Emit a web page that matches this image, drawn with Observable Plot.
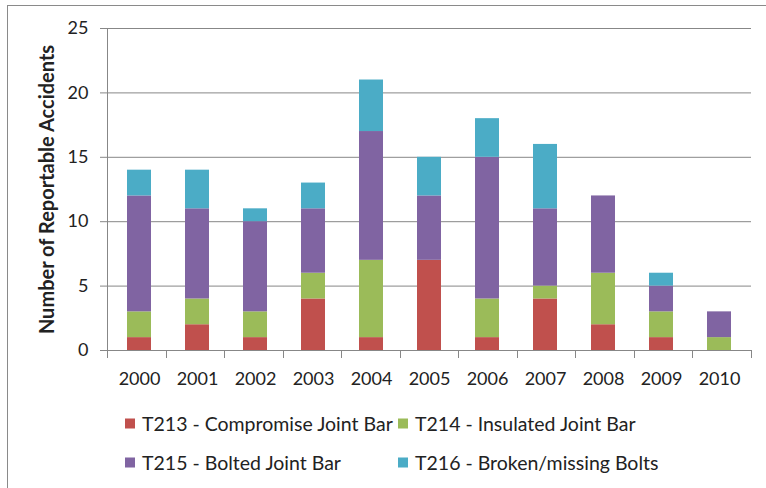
<!DOCTYPE html>
<html>
<head>
<meta charset="utf-8">
<script src="https://cdn.jsdelivr.net/npm/d3@7"></script>
<script src="https://cdn.jsdelivr.net/npm/@observablehq/plot@0.6"></script>
<style>
  html, body { margin: 0; padding: 0; background: #fff; width: 766px; height: 488px; overflow: hidden; }
  body { position: relative; font-family: Lato, "Open Sans", sans-serif; color: #222; }
  #frame { position: absolute; left: 7px; top: 5px; width: 800px; height: 520px; border: 1px solid #8a8a8a; box-sizing: border-box; }
  #chart { position: absolute; left: 0; top: 0; }
  #legend { position: absolute; left: 0; top: 0; width: 766px; height: 488px; pointer-events: none; }
  .item { position: absolute; display: flex; align-items: center; font-size: 19.5px; white-space: nowrap; transform: translateY(-50%); }
  .sw { width: 10px; height: 10px; margin-right: 7px; }
</style>
</head>
<body>
<div id="frame"></div>
<div id="chart"></div>
<div id="legend"></div>
<script>
const years = ["2000","2001","2002","2003","2004","2005","2006","2007","2008","2009","2010"];
const seriesNames = ["T213 - Compromise Joint Bar","T214 - Insulated Joint Bar","T215 - Bolted Joint Bar","T216 - Broken/missing Bolts"];
const seriesColors = ["#C0504D","#9BBB59","#8064A2","#4BACC6"];
const t213 = [1,2,1,4,1,7,1,4,2,1,0];
const t214 = [2,2,2,2,6,0,3,1,4,2,1];
const t215 = [9,7,7,5,10,5,11,6,6,2,2];
const t216 = [2,3,1,2,4,3,3,5,0,1,0];
const yTicks = [0,5,10,15,20,25];
const yTitle = "Number of Reportable Accidents";

const seriesValues = [t213, t214, t215, t216];
const rows = [];
seriesNames.forEach((s, si) => years.forEach((y, i) => rows.push({year: y, series: s, value: seriesValues[si][i]})));

const gridColor = "#878787";

function axisLines(index, scales, values, dims) {
  const l = dims.marginLeft, r = dims.marginRight, t = dims.marginTop, b = dims.marginBottom;
  const w = dims.width, h = dims.height;
  const g = d3.create("svg:g").attr("stroke", gridColor).attr("stroke-width", 1);
  g.append("line").attr("x1", l + 0.5).attr("x2", l + 0.5).attr("y1", t).attr("y2", h - b);
  const step = (w - l - r) / years.length;
  for (let i = 0; i <= years.length; i++) {
    const x = Math.round(l + i * step) + 0.5;
    g.append("line").attr("x1", x).attr("x2", x).attr("y1", h - b).attr("y2", h - b + 8);
  }
  return g.node();
}

const chart = Plot.plot({
  width: 766,
  height: 395,
  marginLeft: 107,
  marginRight: 15,
  marginTop: 28,
  marginBottom: 45,
  style: {fontFamily: "Lato, 'Open Sans', sans-serif", fontSize: "18px", color: "#222", background: "transparent"},
  x: {domain: years, paddingInner: 0.59, paddingOuter: 0.295, label: null, axis: null},
  y: {domain: [0, 25], label: null, axis: null},
  color: {domain: seriesNames, range: seriesColors},
  marks: [
    Plot.ruleY(yTicks, {stroke: gridColor, strokeOpacity: 1}),
    Plot.barY(rows, {x: "year", y: "value", fill: "series"}),
    Plot.axisY({ticks: yTicks, tickSize: 7, tickPadding: 12, stroke: gridColor, fontSize: 18, label: null}),
    Plot.axisX({tickSize: 0, tickPadding: 22, fontSize: 18, label: null}),
    axisLines,
    Plot.text([yTitle], {frameAnchor: "left", textAnchor: "middle", rotate: -90, dx: -60, fontWeight: "bold", fontSize: 20, fill: "#222"})
  ]
});
document.getElementById("chart").appendChild(chart);

const legend = document.getElementById("legend");
const legendPos = [[125, 423], [398, 423], [125, 462], [398, 462]];
seriesNames.forEach((s, i) => {
  const d = document.createElement("div");
  d.className = "item";
  d.style.left = legendPos[i][0] + "px";
  d.style.top = legendPos[i][1] + "px";
  const sw = document.createElement("span");
  sw.className = "sw";
  sw.style.background = seriesColors[i];
  const t = document.createElement("span");
  t.textContent = s;
  d.appendChild(sw); d.appendChild(t);
  legend.appendChild(d);
});
</script>
</body>
</html>
